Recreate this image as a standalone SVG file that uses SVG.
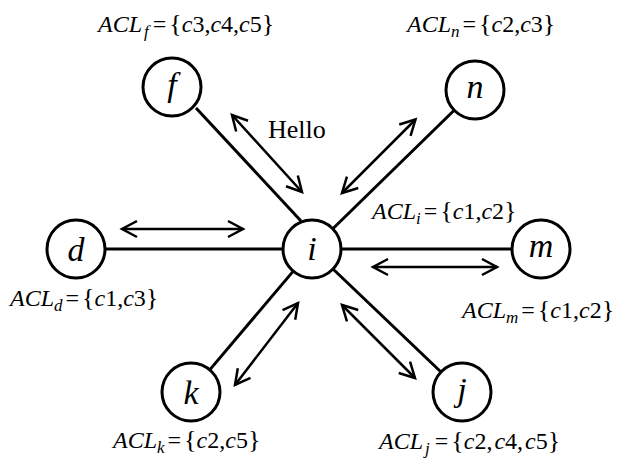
<svg xmlns="http://www.w3.org/2000/svg" width="620" height="463" viewBox="0 0 620 463">
<style>
.bg{fill:#fff}
.node circle{fill:#fff;stroke:#000;stroke-width:3}
.node text{font-family:"Liberation Serif","Times New Roman",serif;font-style:italic;font-size:34px;text-anchor:middle}
.edge{stroke:#000;stroke-width:3;fill:none}
.arr{stroke:#000;stroke-width:2.5;fill:none;marker-start:url(#ah);marker-end:url(#ah)}
.lab{font-family:"Liberation Serif","Times New Roman",serif;font-size:24px}
.it{font-style:italic}
.sub{font-size:17px;font-style:italic}
.br{font-size:26px}
.hello{font-family:"Liberation Serif","Times New Roman",serif;font-size:26px}
</style>
<defs>
<marker id="ah" viewBox="-18 -11 21 22" markerWidth="21" markerHeight="22" refX="0" refY="0" orient="auto-start-reverse" markerUnits="userSpaceOnUse">
<path d="M-15,-8 L0,0 L-15,8" fill="none" stroke="#000" stroke-width="2.5" stroke-linejoin="miter"/>
</marker>
</defs>
<rect class="bg" x="0" y="0" width="620" height="463"/>
<g id="connectors">
<line class="edge" x1="196" y1="108" x2="301" y2="221"/>
<line class="edge" x1="332.8" y1="228.8" x2="454.2" y2="110.2"/>
<line class="edge" x1="105" y1="249" x2="283" y2="249"/>
<line class="edge" x1="341" y1="249" x2="512" y2="249"/>
<line class="edge" x1="293.3" y1="271.1" x2="209.7" y2="369.9"/>
<line class="edge" x1="333" y1="269" x2="441" y2="372"/>
<line class="arr" x1="232" y1="115" x2="302" y2="192"/>
<line class="arr" x1="415.5" y1="119.5" x2="342" y2="193"/>
<line class="arr" x1="122" y1="229" x2="243" y2="229"/>
<line class="arr" x1="373" y1="267" x2="497" y2="267"/>
<line class="arr" x1="235" y1="385" x2="298" y2="303"/>
<line class="arr" x1="342" y1="305" x2="415" y2="378"/>
</g>
<text class="hello" x="268" y="138">Hello</text>
<g id="node-f" class="node"><circle cx="172" cy="87" r="29"/><text x="172" y="96">f</text></g>
<g id="node-n" class="node"><circle cx="475" cy="90" r="29"/><text x="475" y="98">n</text></g>
<g id="node-d" class="node"><circle cx="76" cy="249" r="29"/><text x="76" y="261">d</text></g>
<g id="node-i" class="node"><circle cx="312" cy="249" r="29"/><text x="312" y="260">i</text></g>
<g id="node-m" class="node"><circle cx="541" cy="249" r="29"/><text x="541" y="257">m</text></g>
<g id="node-k" class="node"><circle cx="191" cy="392" r="29"/><text x="191" y="404">k</text></g>
<g id="node-j" class="node"><circle cx="462" cy="392" r="29"/><text x="462" y="401">j</text></g>
<g id="labels">
<text id="acl-f" class="lab" x="98" y="32"><tspan class="it">ACL</tspan><tspan class="sub" dx="2" dy="5">f</tspan><tspan dy="-5" dx="4">=</tspan><tspan class="br" dx="3">{</tspan><tspan class="it">c</tspan>3,<tspan class="it">c</tspan>4,<tspan class="it">c</tspan>5<tspan class="br">}</tspan></text>
<text id="acl-n" class="lab" x="407" y="32"><tspan class="it">ACL</tspan><tspan class="sub" dy="5">n</tspan><tspan dy="-5" dx="3">=</tspan><tspan class="br" dx="3">{</tspan><tspan class="it">c</tspan>2,<tspan class="it">c</tspan>3<tspan class="br">}</tspan></text>
<text id="acl-i" class="lab" x="372" y="219"><tspan class="it">ACL</tspan><tspan class="sub" dy="5">i</tspan><tspan dy="-5" dx="3">=</tspan><tspan class="br" dx="3">{</tspan><tspan class="it">c</tspan>1,<tspan class="it">c</tspan>2<tspan class="br">}</tspan></text>
<text id="acl-d" class="lab" x="10" y="306"><tspan class="it">ACL</tspan><tspan class="sub" dy="5">d</tspan><tspan dy="-5" dx="3">=</tspan><tspan class="br" dx="3">{</tspan><tspan class="it">c</tspan>1,<tspan class="it">c</tspan>3<tspan class="br">}</tspan></text>
<text id="acl-m" class="lab" x="462" y="318"><tspan class="it">ACL</tspan><tspan class="sub" dy="5">m</tspan><tspan dy="-5" dx="3">=</tspan><tspan class="br" dx="3">{</tspan><tspan class="it">c</tspan>1,<tspan class="it">c</tspan>2<tspan class="br">}</tspan></text>
<text id="acl-k" class="lab" x="113" y="448"><tspan class="it">ACL</tspan><tspan class="sub" dy="5">k</tspan><tspan dy="-5" dx="3">=</tspan><tspan class="br" dx="3">{</tspan><tspan class="it">c</tspan>2,<tspan class="it">c</tspan>5<tspan class="br">}</tspan></text>
<text id="acl-j" class="lab" x="379" y="449"><tspan class="it">ACL</tspan><tspan class="sub" dx="2" dy="5">j</tspan><tspan dy="-5" dx="5">=</tspan><tspan class="br" dx="3">{</tspan><tspan class="it">c</tspan>2,<tspan class="it" dx="2">c</tspan>4,<tspan class="it" dx="2">c</tspan>5<tspan class="br">}</tspan></text>
</g>
</svg>
